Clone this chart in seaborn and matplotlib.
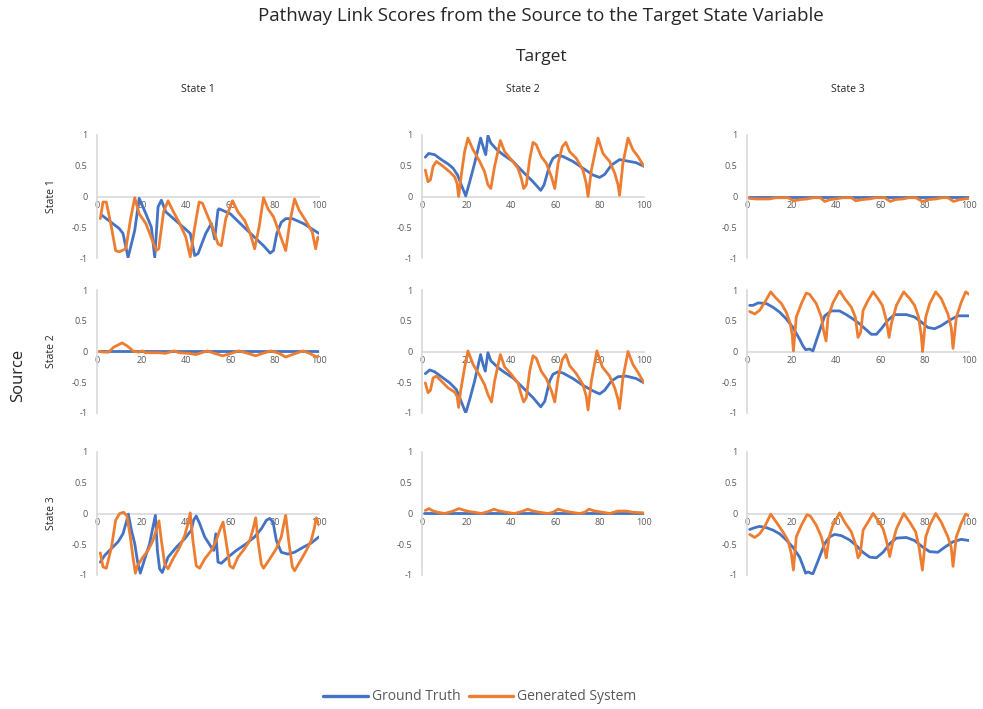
import pandas as pd
import matplotlib
matplotlib.use("Agg")
import matplotlib.pyplot as plt
import seaborn as sns
from matplotlib.lines import Line2D

# Estilo base
sns.set_style("white")
plt.rcParams['font.family'] = ['Open Sans', 'DejaVu Sans']

states = ['State 1', 'State 2', 'State 3']
series_names = ['Ground Truth', 'Generated System']
colors = {'Ground Truth': '#4472C4', 'Generated System': '#ED7D31'}
x_ticks = [0, 20, 40, 60, 80, 100]
y_ticks = [1, 0.5, 0, -0.5, -1]
y_tick_labels = ['1', '0.5', '0', '-0.5', '-1']

# Source State 1 -> Target State 1
s1t1_gt_x = [2, 10, 11.7, 14, 17, 19, 22, 24.5, 26, 27.5, 29, 31, 37, 42, 44, 45.5, 49, 51.5, 53, 54.5, 55, 60, 64, 70, 75, 78, 79.5, 81, 83, 85, 88, 93, 100]
s1t1_gt_y = [-0.3, -0.52, -0.6, -0.99, -0.55, -0.03, -0.28, -0.5, -0.99, -0.17, -0.06, -0.25, -0.44, -0.6, -0.96, -0.93, -0.6, -0.44, -0.69, -0.22, -0.2, -0.28, -0.42, -0.63, -0.8, -0.92, -0.88, -0.6, -0.42, -0.36, -0.36, -0.44, -0.6]
s1t1_gen_x = [1.5, 2.7, 4.2, 6.5, 8.4, 10, 13, 15, 17, 19, 22, 25, 26.7, 27.8, 30, 32, 34, 37, 40, 42, 44, 46, 47.5, 50, 52, 54.5, 56, 58, 61, 63.5, 66.5, 69, 71, 73, 75, 77, 79.5, 82, 85, 87, 89, 91, 94, 97, 98.5, 99.5, 100]
s1t1_gen_y = [-0.36, -0.09, -0.09, -0.5, -0.88, -0.9, -0.85, -0.39, -0.02, -0.28, -0.44, -0.72, -0.88, -0.85, -0.25, -0.07, -0.22, -0.42, -0.66, -0.98, -0.5, -0.09, -0.11, -0.33, -0.5, -0.77, -0.8, -0.36, -0.07, -0.25, -0.39, -0.6, -0.85, -0.5, -0.02, -0.2, -0.33, -0.58, -0.88, -0.39, -0.04, -0.22, -0.39, -0.58, -0.85, -0.66, -0.69]

# Source State 1 -> Target State 2
s1t2_gt_x = [1.5, 3, 5.7, 8.7, 11.7, 14, 16, 17.7, 19.7, 21.5, 23.7, 26.4, 27.7, 28.7, 29.7, 31, 33.5, 36.5, 41, 45.5, 50, 53.5, 55, 57.5, 59, 61, 63.5, 68, 72.5, 77, 80, 82.3, 85.3, 89, 92, 96.5, 100]
s1t2_gt_y = [0.64, 0.7, 0.68, 0.6, 0.53, 0.46, 0.35, 0.19, 0.01, 0.24, 0.54, 0.95, 0.79, 0.68, 0.99, 0.87, 0.77, 0.68, 0.57, 0.4, 0.24, 0.1, 0.19, 0.51, 0.62, 0.67, 0.65, 0.57, 0.46, 0.35, 0.31, 0.36, 0.51, 0.6, 0.58, 0.55, 0.49]
s1t2_gen_x = [1.5, 2.7, 3.8, 5, 6.5, 9.5, 12.5, 14.7, 15.8, 16.5, 17.7, 19.2, 20.7, 23, 26, 28.2, 29.7, 31, 32.7, 35.3, 37.2, 40.2, 43.2, 44.7, 45.8, 47, 48.5, 50, 51.5, 53.7, 56, 58.3, 59.8, 61.3, 63.2, 64.8, 66.5, 69.5, 72.5, 74, 74.8, 76.3, 79.3, 81.5, 84.5, 86.8, 88.3, 89, 90.5, 92.8, 95, 97.3, 100]
s1t2_gen_y = [0.43, 0.24, 0.27, 0.49, 0.57, 0.49, 0.4, 0.32, 0.21, 0.0, 0.35, 0.73, 0.95, 0.76, 0.57, 0.4, 0.19, 0.13, 0.49, 0.91, 0.73, 0.6, 0.46, 0.3, 0.13, 0.19, 0.6, 0.88, 0.84, 0.65, 0.54, 0.32, 0.13, 0.54, 0.81, 0.88, 0.73, 0.62, 0.43, 0.21, 0.0, 0.43, 0.95, 0.7, 0.57, 0.38, 0.19, 0.02, 0.54, 0.95, 0.76, 0.65, 0.49]

# Source State 1 -> Target State 3
s1t3_gt_x = [1, 100]
s1t3_gt_y = [-0.01, -0.01]
s1t3_gen_x = [1, 4, 10, 13, 18.5, 21, 24, 27, 30, 33, 35, 37.5, 40, 43, 47, 49, 52, 55, 58, 62, 64.5, 67, 70, 73, 76, 79, 82, 85, 88, 90.5, 93, 96, 100]
s1t3_gen_y = [-0.03, -0.04, -0.04, -0.02, -0.02, -0.07, -0.05, -0.04, -0.02, -0.02, -0.08, -0.05, -0.04, -0.02, -0.02, -0.07, -0.05, -0.04, -0.02, -0.02, -0.08, -0.05, -0.04, -0.02, -0.02, -0.08, -0.05, -0.04, -0.02, -0.02, -0.08, -0.05, -0.03]

# Source State 2 -> Target State 1
s2t1_gt_x = [1, 100]
s2t1_gt_y = [0.01, 0.01]
s2t1_gen_x = [1, 3, 5.3, 7.5, 11.3, 13.6, 16.6, 18.9, 20.4, 21.9, 28, 30.8, 34.7, 37, 41.5, 44.5, 49.8, 52, 56.6, 59.6, 63.8, 67, 71.5, 73.8, 78.3, 82, 85, 88, 92.8, 95.8, 98.9, 100]
s2t1_gen_y = [0.0, -0.01, -0.01, 0.07, 0.14, 0.09, 0.0, -0.01, 0.01, -0.02, -0.02, -0.03, 0.01, -0.02, -0.03, -0.05, 0.01, -0.02, -0.07, -0.04, 0.01, -0.02, -0.07, -0.04, 0.01, -0.03, -0.09, -0.05, 0.01, -0.03, -0.09, -0.07]

# Source State 2 -> Target State 2
s2t2_gt_x = [1.5, 3.5, 5.7, 9.5, 12.5, 15.5, 17.3, 19.7, 21.5, 23.7, 26.4, 27.5, 28.5, 29.7, 31, 34.2, 37.2, 41, 45.5, 50, 53.5, 55.3, 57.5, 59, 61.3, 63.5, 68, 72.5, 77, 80, 82.3, 85.3, 88.3, 92, 96.5, 100]
s2t2_gt_y = [-0.36, -0.3, -0.33, -0.43, -0.51, -0.62, -0.78, -1.0, -0.78, -0.48, -0.05, -0.21, -0.32, -0.02, -0.15, -0.26, -0.34, -0.43, -0.59, -0.75, -0.9, -0.81, -0.48, -0.37, -0.33, -0.35, -0.44, -0.55, -0.64, -0.69, -0.63, -0.48, -0.41, -0.4, -0.44, -0.51]
s2t2_gen_x = [1.5, 2.7, 3.8, 5, 6.5, 9.5, 11.7, 14.7, 15.8, 16.5, 17.4, 19.2, 20.7, 23, 26, 28.2, 29.7, 31.3, 32.7, 35.3, 37.2, 40.2, 43.2, 44.7, 45.8, 47, 48.5, 50, 51.5, 53.7, 56, 58.3, 59.8, 61.3, 63.2, 64.8, 66.5, 69.5, 72.5, 74, 74.8, 76.3, 78.8, 81.2, 84.5, 86.8, 88.3, 89, 90.5, 92.8, 95, 97.3, 100]
s2t2_gen_y = [-0.51, -0.67, -0.63, -0.43, -0.4, -0.51, -0.59, -0.66, -0.73, -0.91, -0.64, -0.26, 0.01, -0.21, -0.39, -0.54, -0.7, -0.82, -0.48, -0.05, -0.25, -0.37, -0.51, -0.7, -0.82, -0.75, -0.32, -0.07, -0.11, -0.32, -0.44, -0.64, -0.82, -0.43, -0.13, -0.05, -0.23, -0.36, -0.54, -0.73, -0.95, -0.48, 0.01, -0.25, -0.4, -0.59, -0.78, -0.93, -0.43, 0.0, -0.21, -0.34, -0.51]

# Source State 2 -> Target State 3
s2t3_gt_x = [1.2, 2.7, 5, 8.7, 11.7, 14.7, 17.7, 20.7, 23.7, 25.2, 26.4, 28.2, 29.7, 32, 35, 38, 41.7, 44.7, 47.7, 50.7, 53.8, 56, 58.3, 60.5, 63.5, 66.5, 71.8, 75.5, 78.5, 81.5, 84.5, 87.5, 91.3, 95, 100]
s2t3_gt_y = [0.75, 0.75, 0.79, 0.78, 0.72, 0.64, 0.53, 0.39, 0.2, 0.09, 0.03, 0.04, 0.01, 0.26, 0.58, 0.66, 0.66, 0.6, 0.53, 0.45, 0.35, 0.28, 0.28, 0.37, 0.51, 0.6, 0.6, 0.56, 0.48, 0.39, 0.37, 0.42, 0.51, 0.58, 0.58]
s2t3_gen_x = [1.2, 3.5, 5.7, 8, 10.7, 12.5, 15.5, 17.7, 19.5, 20.4, 20.9, 22.2, 24.5, 26.7, 28.2, 31.2, 33.5, 34.5, 35.6, 36.5, 38.7, 41.7, 44, 47, 48.8, 50, 51.2, 52.3, 54.5, 56.8, 59, 61, 62.8, 64, 65, 67.3, 70.6, 73.3, 75.5, 77.3, 78.5, 79.1, 80.5, 82.3, 85, 87.5, 90.5, 92, 92.8, 94.3, 96.5, 98.5, 100]
s2t3_gen_y = [0.65, 0.61, 0.67, 0.8, 0.97, 0.89, 0.78, 0.64, 0.45, 0.26, 0.01, 0.56, 0.78, 0.95, 0.93, 0.78, 0.56, 0.34, 0.17, 0.56, 0.79, 0.99, 0.86, 0.72, 0.56, 0.23, 0.31, 0.67, 0.83, 0.97, 0.86, 0.75, 0.5, 0.23, 0.45, 0.75, 0.97, 0.86, 0.75, 0.56, 0.26, 0.0, 0.56, 0.78, 0.97, 0.86, 0.61, 0.39, 0.05, 0.56, 0.8, 0.97, 0.93]

# Source State 3 -> Target State 1
s3t1_gt_x = [1.5, 3.5, 6.5, 9.5, 11.7, 13.2, 14.1, 15.5, 17, 18.2, 19.5, 21.5, 23.7, 25.2, 26.3, 27.2, 28.2, 29.4, 32, 35.7, 39.5, 42.5, 43.5, 44.7, 46.2, 48.5, 51.5, 52.6, 53.5, 54.5, 56, 59, 62.8, 67.3, 71, 74, 76.3, 77.8, 79.3, 80.8, 83, 86, 89, 92.8, 96.5, 100]
s3t1_gt_y = [-0.79, -0.68, -0.57, -0.46, -0.33, -0.14, -0.01, -0.27, -0.49, -0.77, -0.97, -0.74, -0.49, -0.22, -0.03, -0.6, -0.9, -0.96, -0.71, -0.55, -0.41, -0.27, -0.11, -0.04, -0.16, -0.38, -0.55, -0.6, -0.33, -0.79, -0.81, -0.71, -0.6, -0.49, -0.38, -0.25, -0.11, -0.08, -0.14, -0.44, -0.63, -0.66, -0.63, -0.55, -0.48, -0.38]
s3t1_gen_x = [1.5, 2.7, 4.2, 6.5, 8.4, 10.2, 12, 13.5, 15, 16.2, 17.3, 18.2, 20.7, 23, 25.2, 26.7, 27.9, 29, 30.5, 32, 34.2, 37.2, 39.5, 41, 42, 43.2, 44.7, 46.2, 48.5, 51.5, 53.7, 55.3, 56.8, 58.3, 59.8, 61.3, 63.5, 66.5, 68.8, 70.3, 71.5, 72.5, 74, 75, 77.8, 80.8, 83, 84.2, 85, 86.5, 88, 89, 91.3, 94.3, 96.5, 98, 98.8, 100]
s3t1_gen_y = [-0.64, -0.87, -0.89, -0.55, -0.11, 0.0, 0.02, -0.04, -0.38, -0.71, -0.97, -0.85, -0.71, -0.6, -0.44, -0.27, -0.12, -0.44, -0.82, -0.9, -0.74, -0.55, -0.36, -0.16, 0.01, -0.44, -0.85, -0.89, -0.74, -0.6, -0.44, -0.27, -0.14, -0.49, -0.85, -0.89, -0.71, -0.57, -0.44, -0.25, -0.07, -0.44, -0.82, -0.89, -0.74, -0.57, -0.38, -0.16, -0.03, -0.49, -0.87, -0.93, -0.79, -0.6, -0.44, -0.22, -0.07, -0.19]

# Source State 3 -> Target State 2
s3t2_gt_x = [1, 100]
s3t2_gt_y = [0.01, 0.01]
s3t2_gen_x = [1.5, 3.2, 5, 7.2, 10.2, 13.2, 16.7, 19.2, 21.5, 23.7, 26.7, 29.7, 32.4, 35, 38, 41.7, 44.7, 47.7, 50, 53, 56.8, 59, 61.3, 64.3, 67.3, 71, 73.3, 75.2, 77.8, 81.5, 84.5, 88.3, 92, 95, 100]
s3t2_gen_y = [0.05, 0.08, 0.04, 0.02, 0.0, 0.03, 0.08, 0.05, 0.03, 0.02, 0.0, 0.03, 0.07, 0.04, 0.02, 0.0, 0.03, 0.07, 0.04, 0.02, 0.0, 0.02, 0.07, 0.04, 0.02, 0.0, 0.02, 0.07, 0.04, 0.02, 0.0, 0.04, 0.04, 0.02, 0.01]

# Source State 3 -> Target State 3
s3t3_gt_x = [1.2, 3.5, 5.7, 8.7, 11.7, 14.7, 17.7, 20.7, 23.7, 25.2, 26.4, 27.5, 28.7, 29.7, 32, 35, 37.2, 39.5, 42.5, 46.2, 49.2, 52.2, 55.3, 58.3, 61.3, 64.3, 67.3, 71.8, 75.5, 79.3, 82.3, 86, 89, 92.8, 96.5, 100]
s3t3_gt_y = [-0.26, -0.23, -0.21, -0.23, -0.27, -0.33, -0.43, -0.55, -0.71, -0.85, -0.97, -0.95, -0.97, -0.98, -0.77, -0.49, -0.38, -0.34, -0.36, -0.43, -0.52, -0.63, -0.71, -0.72, -0.63, -0.49, -0.4, -0.39, -0.44, -0.55, -0.62, -0.63, -0.55, -0.46, -0.42, -0.44]
s3t3_gen_x = [1.2, 3.5, 5.7, 8, 10.7, 13.2, 16.2, 18.5, 20, 20.9, 22.2, 24.5, 27, 28.5, 31.2, 33.5, 35, 35.7, 37, 38.7, 41.7, 44, 47, 48.8, 50, 51, 52.3, 54.5, 56.8, 59, 61.3, 62.8, 64.3, 65.5, 67.3, 70.6, 73.3, 76, 77.5, 79, 80.5, 82.3, 85, 87.5, 90.5, 92, 92.8, 94.3, 96.5, 98.5, 100]
s3t3_gen_y = [-0.34, -0.39, -0.33, -0.21, -0.01, -0.14, -0.3, -0.44, -0.66, -0.92, -0.38, -0.19, -0.02, -0.04, -0.19, -0.38, -0.6, -0.72, -0.38, -0.19, 0.01, -0.14, -0.3, -0.49, -0.72, -0.66, -0.27, -0.14, 0.0, -0.11, -0.25, -0.44, -0.7, -0.49, -0.25, 0.0, -0.14, -0.3, -0.55, -0.92, -0.38, -0.19, 0.0, -0.14, -0.38, -0.55, -0.86, -0.38, -0.16, -0.01, -0.04]

panels = {
    (0, 0): (s1t1_gt_x, s1t1_gt_y, s1t1_gen_x, s1t1_gen_y),
    (0, 1): (s1t2_gt_x, s1t2_gt_y, s1t2_gen_x, s1t2_gen_y),
    (0, 2): (s1t3_gt_x, s1t3_gt_y, s1t3_gen_x, s1t3_gen_y),
    (1, 0): (s2t1_gt_x, s2t1_gt_y, s2t1_gen_x, s2t1_gen_y),
    (1, 1): (s2t2_gt_x, s2t2_gt_y, s2t2_gen_x, s2t2_gen_y),
    (1, 2): (s2t3_gt_x, s2t3_gt_y, s2t3_gen_x, s2t3_gen_y),
    (2, 0): (s3t1_gt_x, s3t1_gt_y, s3t1_gen_x, s3t1_gen_y),
    (2, 1): (s3t2_gt_x, s3t2_gt_y, s3t2_gen_x, s3t2_gen_y),
    (2, 2): (s3t3_gt_x, s3t3_gt_y, s3t3_gen_x, s3t3_gen_y),
}

W, H = 983, 709
fig = plt.figure(figsize=(W / 100, H / 100), dpi=100)

col_left = [97, 422, 747]
row_top = [135, 290, 452]
ax_w, ax_h = 222, 123
grey_txt = '#595959'
grey_line = '#D9D9D9'

for (r, c), (gx, gy, ox, oy) in panels.items():
    ax = fig.add_axes([col_left[c] / W, 1 - (row_top[r] + ax_h) / H, ax_w / W, ax_h / H])
    df = pd.concat([
        pd.DataFrame({'x': gx, 'y': gy, 'serie': 'Ground Truth'}),
        pd.DataFrame({'x': ox, 'y': oy, 'serie': 'Generated System'}),
    ])
    sns.lineplot(data=df, x='x', y='y', hue='serie', palette=colors, ax=ax,
                 estimator=None, sort=False, legend=False, linewidth=2.0)
    ax.set_xlim(0, 100)
    ax.set_ylim(-1, 1)
    ax.set_xticks(x_ticks)
    ax.set_yticks(y_ticks)
    ax.set_yticklabels(y_tick_labels)
    ax.set_xlabel('')
    ax.set_ylabel('')
    for s in ['top', 'right']:
        ax.spines[s].set_visible(False)
    ax.spines['left'].set_color(grey_line)
    ax.spines['left'].set_linewidth(1.2)
    ax.spines['bottom'].set_position(('data', 0))
    ax.spines['bottom'].set_color(grey_line)
    ax.spines['bottom'].set_linewidth(1.2)
    ax.spines['bottom'].set_zorder(0)
    ax.tick_params(axis='both', length=0, labelsize=6.5, colors=grey_txt)
    ax.tick_params(axis='y', pad=7)
    ax.tick_params(axis='x', pad=3)
    ax.patch.set_alpha(0)

# Titulos das colunas e linhas
for c, name in enumerate(states):
    fig.text((col_left[c] + ax_w / 2 - 10) / W, 1 - 89 / H, name, ha='center', va='center', fontsize=7.5)
for r, name in enumerate(states):
    fig.text(52 / W, 1 - (row_top[r] + ax_h / 2) / H, name, ha='center', va='center', rotation=90, fontsize=7.5)

fig.text(541 / W, 1 - 16 / H, 'Pathway Link Scores from the Source to the Target State Variable',
         ha='center', va='center', fontsize=13.5)
fig.text(542 / W, 1 - 57 / H, 'Target', ha='center', va='center', fontsize=12.5)
fig.text(18 / W, 1 - 375 / H, 'Source', ha='center', va='center', rotation=90, fontsize=12)

handles = [Line2D([], [], color=colors[n], linewidth=2.4) for n in series_names]
fig.legend(handles, series_names, loc='center', bbox_to_anchor=(480 / W, 1 - 697 / H), ncol=2,
           frameon=False, fontsize=10, labelcolor=grey_txt, handlelength=3.2, columnspacing=0.6,
           handletextpad=0.3)

fig.savefig('out.png', dpi=100)
